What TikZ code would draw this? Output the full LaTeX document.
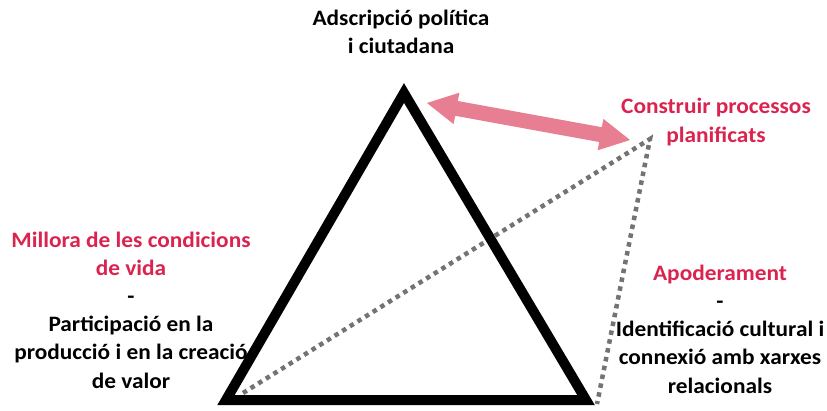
\documentclass[tikz,border=0pt]{standalone}
\usepackage{fontspec}
\setmainfont{Carlito}[FakeStretch=1.06]
\definecolor{pinktxt}{RGB}{219,35,80}
\definecolor{pinkarrow}{RGB}{231,126,145}
\definecolor{dotgray}{RGB}{115,115,115}
\begin{document}
\begin{tikzpicture}[x=1pt,y=-1pt,
  lbl/.style={align=center,font=\fontsize{22}{28.2}\selectfont\bfseries,inner sep=0pt},
  pinklbl/.style={lbl,text=pinktxt},
  tri/.style={line width=10pt,line join=miter,draw=black},
  dots/.style={line width=4.5pt,draw=dotgray,dash pattern=on 4.5pt off 4.5pt}]
\useasboundingbox (0,0) rectangle (827,410);
\fill[white] (0,0) rectangle (827,410);
% labels
\node[lbl] (top) at (401,32) {Adscripció política\\i ciutadana};
\node[pinklbl] (plan) at (716,122) {Construir processos\\planificats};
\node[lbl] (left) at (131,310) {\textcolor{pinktxt}{Millora de les condicions}\\\textcolor{pinktxt}{de vida}\\-\\Participació en la\\producció i en la creació\\de valor};
\node[lbl] (right) at (720,329) {\textcolor{pinktxt}{Apoderament}\\-\\Identificació cultural i\\connexió amb xarxes\\relacionals};
% corners
\coordinate (apex) at (404,93);
\coordinate (bl) at (226,400);
\coordinate (br) at (586,400);
\coordinate (dA) at (243,393);
\coordinate (dB) at (650,139);
\coordinate (dC) at (597,404);
% dotted triangle
\draw[dots] (dA) -- (dB) -- (dC);
% main triangle
\draw[tri] (apex) -- (bl) -- (br) -- cycle;
% double arrow
\fill[pinkarrow] (427,103) -- (459.4,92.7) -- (457.8,101.0) -- (601.8,127.2) -- (603.4,118.9) -- (630,140) -- (597.6,150.3) -- (599.2,142.0) -- (455.2,115.8) -- (453.6,124.1) -- cycle;
\end{tikzpicture}
\end{document}
